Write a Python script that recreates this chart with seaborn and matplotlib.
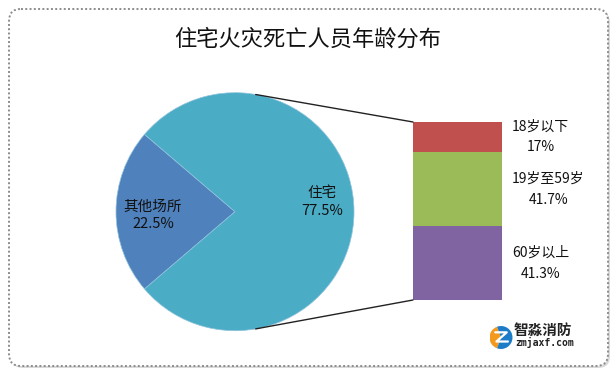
import numpy as np
import pandas as pd
import matplotlib
matplotlib.use("Agg")
import matplotlib.pyplot as plt
import matplotlib.transforms as mtransforms
from matplotlib.patches import FancyBboxPatch, Wedge, ConnectionPatch
import seaborn as sns

# ---- data ----
title = "住宅火灾死亡人员年龄分布"
place_labels = ["其他场所", "住宅"]
place_values = [22.5, 77.5]
place_colors = ["#4F81BD", "#4BACC6"]

age_labels = ["18岁以下", "19岁至59岁", "60岁以上"]
age_values = [17, 41.7, 41.3]
age_colors = ["#C0504D", "#9BBB59", "#8064A2"]

sns.set_theme(style="white")
plt.rcParams["font.family"] = ["Noto Sans CJK SC", "DejaVu Sans"]

W, H = 615, 377
fig = plt.figure(figsize=(W / 100, H / 100), dpi=100)
fig.patch.set_facecolor("white")

# background canvas in pixel units (y grows downward)
bg = fig.add_axes([0, 0, 1, 1])
bg.set_xlim(0, W)
bg.set_ylim(H, 0)
bg.axis("off")

shadow = FancyBboxPatch((11, 11), 599, 357, boxstyle="round,pad=0,rounding_size=12",
                        facecolor="#d9d9d9", edgecolor="none", zorder=0)
bg.add_patch(shadow)
frame = FancyBboxPatch((9, 9), 599, 357, boxstyle="round,pad=0,rounding_size=12",
                       facecolor="white", edgecolor="#8c8c8c", linewidth=1.4,
                       linestyle=(0, (1, 1.2)), zorder=1)
bg.add_patch(frame)

bg.text(308, 39, title, ha="center", va="center", fontsize=16, color="#111111", zorder=3)


def px_rect(x0, y0, x1, y1):
    return [x0 / W, 1 - y1 / H, (x1 - x0) / W, (y1 - y0) / H]


# ---- pie ----
cx, cy, r = 235, 211.7, 119
pie_ax = fig.add_axes(px_rect(cx - r, cy - r, cx + r, cy + r))
start = 180 - place_values[0] / 100 * 360 / 2
pie_ax.pie(place_values, colors=place_colors, startangle=start, radius=1,
           center=(0, 0), frame=False,
           wedgeprops=dict(linewidth=0.5, edgecolor="#8fc3dc"))
pie_ax.set_xlim(-1, 1)
pie_ax.set_ylim(-1, 1)
pie_ax.set_aspect("equal")
pie_ax.axis("off")

label_pos = [(-0.69, -0.03), (0.73, 0.08)]
for lab, val, (lx, ly) in zip(place_labels, place_values, label_pos):
    pie_ax.text(lx, ly, f"{lab}\n{val:g}%", ha="center", va="center",
                fontsize=10.5, color="#111111", linespacing=1.35)

# ---- stacked bar ----
bar_x0, bar_x1 = 413, 502
bar_ax = fig.add_axes(px_rect(bar_x0, 122, bar_x1, 300))
cum = np.cumsum(age_values)
bar_df = pd.DataFrame({"g": ["a"] * len(age_values), "top": cum})
for i in range(len(age_values) - 1, -1, -1):
    sns.barplot(data=bar_df.iloc[[i]], x="g", y="top", color=age_colors[i],
                width=1.0, saturation=1, ax=bar_ax, edgecolor="none")
bar_ax.set_xlim(-0.5, 0.5)
bar_ax.set_ylim(cum[-1], 0)
bar_ax.axis("off")

# segment labels to the right of the bar
label_tr = mtransforms.blended_transform_factory(bar_ax.transAxes, bar_ax.transData)
label_x = (512 - bar_x0) / (bar_x1 - bar_x0)
starts = np.concatenate([[0], cum[:-1]])
for lab, val, s, e in zip(age_labels, age_values, starts, cum):
    bar_ax.text(label_x, (s + e) / 2, f"{lab}\n{val:g}%", ha="left", va="center",
                multialignment="center", fontsize=10, color="#111111",
                linespacing=1.6, transform=label_tr, clip_on=False)

# connector lines from pie rim to the bar corners
ang = np.deg2rad(80)
for sgn, corner in [(1, (0, 1)), (-1, (0, 0))]:
    con = ConnectionPatch(xyA=(np.cos(ang), sgn * np.sin(ang)), coordsA=pie_ax.transData,
                          xyB=corner, coordsB=bar_ax.transAxes,
                          color="#222222", linewidth=1.0)
    fig.add_artist(con)

# ---- logo ----
logo_ax = fig.add_axes(px_rect(489, 326, 513, 349))
logo_ax.set_xlim(-1, 1)
logo_ax.set_ylim(-1, 1)
logo_ax.set_aspect("equal")
logo_ax.axis("off")
logo_ax.add_patch(Wedge((0, 0), 1, 110, 250, facecolor="#F39A1E", edgecolor="none"))
logo_ax.add_patch(Wedge((0, 0), 1, 250, 470, facecolor="#1C7CC7", edgecolor="none"))
logo_ax.plot([-0.5, 0.5, -0.4, 0.6], [0.45, 0.45, -0.35, -0.35], color="white", lw=1.6)

bg.text(514, 330, "智淼消防", ha="left", va="center", fontsize=10.5,
        fontweight="bold", color="#222222", zorder=3)
bg.text(515, 342, "zmjaxf.com", ha="left", va="center", fontsize=7,
        fontweight="bold", family="DejaVu Sans Mono", color="#222222", zorder=3)

fig.savefig("out.png", dpi=100, facecolor="white")
